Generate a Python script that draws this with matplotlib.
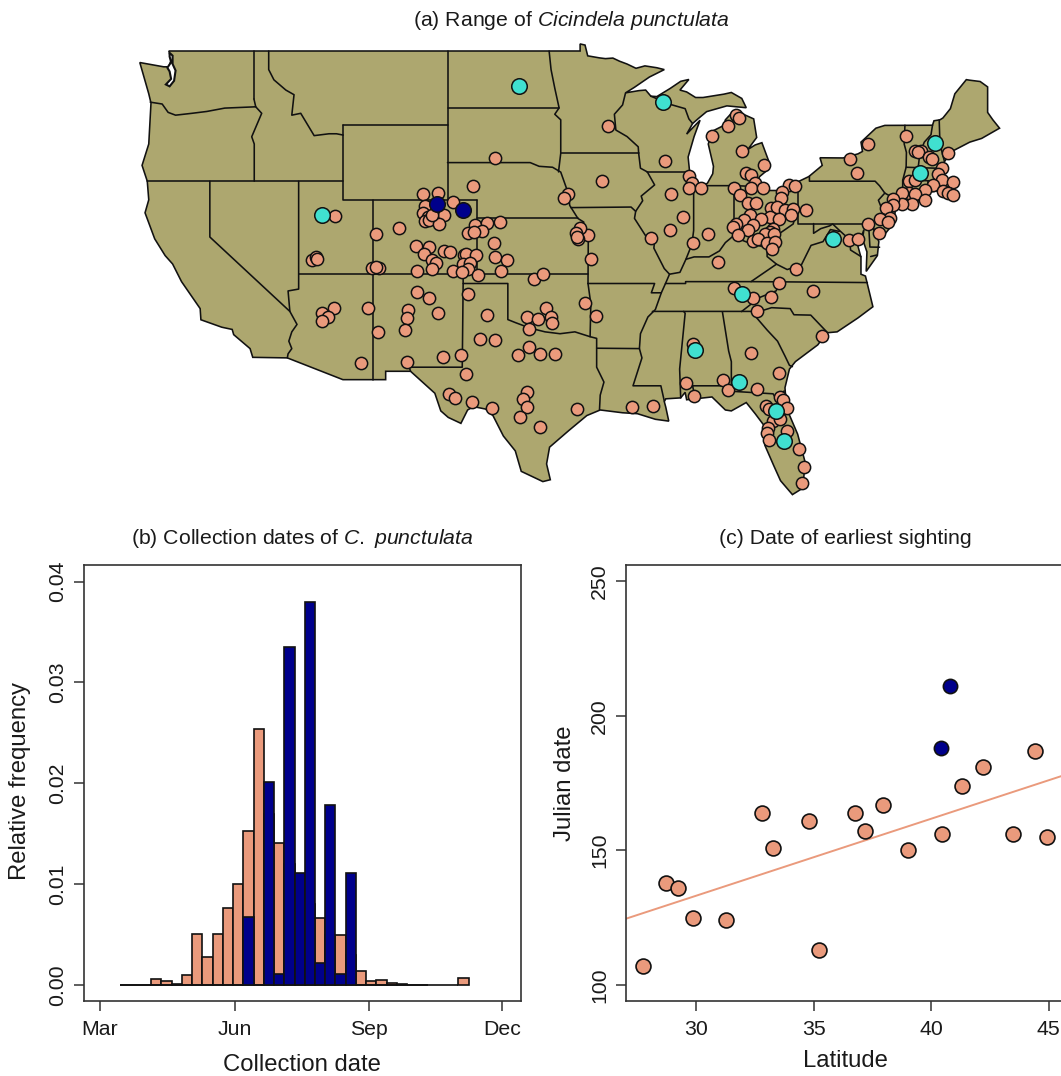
import matplotlib

matplotlib.use("Agg")
import matplotlib.pyplot as plt
import numpy as np

plt.rcParams["font.family"] = ["Liberation Sans", "DejaVu Sans"]
plt.rcParams["mathtext.fontset"] = "custom"
plt.rcParams["mathtext.rm"] = "Liberation Sans"
plt.rcParams["mathtext.it"] = "Liberation Sans:italic"

SALMON = "#EA9A7C"
NAVY = "#00008B"
TURQUOISE = "#40E0D0"
MAP_FILL = "#ADA76F"
AXIS_GREY = "#333333"

# lower 48 outline, lon/lat, clockwise from Puget Sound
US_OUTLINE = [
    (-122.75, 49.0), (-95.15, 49.0), (-95.15, 49.38), (-94.82, 49.32), (-94.64, 48.74), (-93.85, 48.63),
    (-93.45, 48.59), (-92.95, 48.62), (-92.5, 48.45), (-92.0, 48.3), (-91.4, 48.07), (-90.8, 48.2),
    (-90.0, 48.1), (-89.5, 48.0), (-90.5, 47.6), (-91.5, 47.05), (-92.1, 46.75), (-91.2, 46.87),
    (-90.75, 46.9), (-90.4, 46.57), (-90.0, 46.55), (-89.1, 46.99), (-88.4, 47.37), (-87.85, 47.47),
    (-88.45, 46.9), (-88.0, 46.8), (-87.4, 46.5), (-86.9, 46.5), (-85.5, 46.68), (-85.0, 46.77),
    (-84.3, 46.45), (-84.0, 45.95), (-85.3, 46.05), (-86.66, 45.74), (-87.2, 45.38), (-87.6, 45.1),
    (-88.0, 44.53), (-87.1, 45.28), (-87.5, 44.4), (-87.9, 43.3), (-87.8, 42.5), (-87.53, 41.72),
    (-87.0, 41.67), (-86.6, 41.9), (-86.25, 42.4), (-86.2, 42.8), (-86.55, 44.0), (-86.25, 44.7),
    (-85.5, 45.0), (-85.4, 45.3), (-85.0, 45.65), (-84.7, 45.78), (-83.5, 45.35), (-83.3, 44.35),
    (-83.9, 43.7), (-83.4, 43.95), (-82.95, 44.07), (-82.5, 43.1), (-82.5, 42.65), (-83.1, 42.25),
    (-83.45, 41.72), (-82.7, 41.5), (-81.7, 41.5), (-80.5, 41.98), (-79.8, 42.25), (-78.9, 42.85),
    (-79.05, 43.26), (-77.5, 43.25), (-76.5, 43.47), (-76.2, 43.6), (-76.3, 44.1), (-75.3, 44.85),
    (-74.7, 45.0), (-71.5, 45.01), (-71.4, 45.25), (-71.0, 45.3), (-70.8, 45.4), (-70.3, 45.9),
    (-70.0, 46.7), (-69.23, 47.46), (-69.0, 47.43), (-68.3, 47.36), (-67.8, 47.07), (-67.8, 45.7),
    (-67.45, 45.3), (-67.0, 44.85), (-68.2, 44.3), (-69.0, 44.1), (-70.2, 43.6), (-70.7, 43.05),
    (-70.8, 42.7), (-70.6, 42.65), (-71.0, 42.3), (-70.6, 41.95), (-70.0, 41.78), (-70.2, 42.07),
    (-69.95, 41.7), (-70.6, 41.55), (-71.4, 41.45), (-72.9, 41.25), (-73.7, 40.95), (-72.0, 41.05),
    (-73.9, 40.55), (-74.0, 40.4), (-74.1, 39.75), (-74.9, 38.95), (-75.5, 39.5), (-75.1, 38.75),
    (-75.2, 38.0), (-75.95, 37.15), (-75.9, 38.2), (-76.2, 38.9), (-76.1, 39.4), (-76.5, 38.5),
    (-76.3, 37.9), (-76.3, 37.0), (-76.0, 36.9), (-75.5, 35.25), (-76.5, 34.65), (-77.9, 33.9),
    (-78.6, 33.85), (-79.2, 33.2), (-80.7, 32.3), (-81.1, 31.9), (-81.4, 30.9), (-81.3, 29.8),
    (-80.55, 28.4), (-80.05, 26.9), (-80.2, 25.5), (-80.9, 25.15), (-81.7, 25.9), (-82.15, 26.7),
    (-82.75, 27.8), (-82.65, 28.7), (-83.4, 29.5), (-84.0, 30.1), (-85.0, 29.65), (-85.4, 29.7),
    (-86.3, 30.4), (-88.0, 30.25), (-88.1, 30.65), (-88.4, 30.35), (-89.4, 30.3), (-89.5, 30.15),
    (-89.4, 29.85), (-89.2, 29.1), (-90.1, 29.2), (-91.3, 29.5), (-92.3, 29.55), (-93.8, 29.7),
    (-94.7, 29.4), (-95.9, 28.6), (-97.2, 27.7), (-97.4, 26.8), (-97.15, 25.95), (-97.65, 25.85),
    (-99.1, 26.4), (-99.5, 27.5), (-100.3, 28.3), (-101.0, 29.4), (-101.5, 29.75), (-102.3, 29.88),
    (-102.7, 29.7), (-103.15, 28.98), (-104.0, 29.3), (-104.5, 29.65), (-104.9, 30.6), (-106.53, 31.78),
    (-108.2, 31.78), (-108.2, 31.33), (-111.07, 31.33), (-114.8, 32.5), (-117.12, 32.53), (-117.3, 33.0),
    (-118.4, 33.75), (-118.5, 34.03), (-119.2, 34.15), (-120.6, 34.55), (-120.65, 35.15), (-121.9, 36.6),
    (-122.5, 37.55), (-123.0, 38.0), (-123.7, 38.9), (-124.35, 40.3), (-124.1, 41.0), (-124.2, 42.0),
    (-124.55, 42.85), (-124.1, 44.0), (-123.95, 46.2), (-124.1, 46.7), (-124.7, 48.38), (-123.1, 48.15),
    (-122.75, 48.15), (-122.6, 48.5),
]

PUGET_SOUND = [
    (-122.7, 48.9), (-122.5, 48.75), (-122.5, 48.3), (-122.3, 47.95), (-122.4, 47.4), (-122.7, 47.1),
    (-122.95, 47.2), (-122.6, 47.5), (-122.7, 47.9), (-122.85, 48.1), (-122.6, 48.4), (-122.7, 48.7),
]

STATE_LINES = [
    [(-117.04, 49), (-117.04, 46.42)],
    [(-124.0, 46.25), (-123.2, 46.15), (-122.8, 45.7), (-122.3, 45.55), (-121.2, 45.65), (-120.2, 45.75),
     (-119.0, 45.93), (-116.92, 46.0), (-116.52, 45.65), (-117.19, 44.39), (-117.02, 44.0), (-117.02, 42)],
    [(-117.04, 46.42), (-116.92, 46.0)],
    [(-124.2, 42), (-111.05, 42)],
    [(-120, 42), (-120, 39), (-114.63, 35.0)],
    [(-114.04, 42), (-114.04, 36.2), (-114.75, 36.1), (-114.63, 35.0), (-114.15, 34.3), (-114.5, 33.9),
     (-114.7, 33.4), (-114.5, 33.0), (-114.75, 32.72), (-114.8, 32.5)],
    [(-116.05, 49), (-116.05, 48.0), (-115.7, 47.45), (-114.9, 46.9), (-114.35, 46.65), (-114.5, 45.55),
     (-113.9, 45.65), (-113.45, 45.05), (-113.0, 44.45), (-112.0, 44.55), (-111.5, 44.55), (-111.05, 44.48)],
    [(-111.05, 45), (-111.05, 41), (-109.05, 41), (-109.05, 31.33)],
    [(-111.05, 45), (-104.05, 45)],
    [(-109.05, 41), (-102.05, 41)],
    [(-104.05, 49), (-104.05, 41)],
    [(-114.04, 37), (-94.62, 37)],
    [(-102.05, 41), (-102.05, 37)],
    [(-102.05, 40), (-95.3, 40)],
    [(-103.0, 37), (-103.0, 36.5), (-103.06, 32), (-106.62, 32), (-106.53, 31.78)],
    [(-103.0, 36.5), (-100, 36.5), (-100, 34.56), (-99.5, 34.4), (-98.5, 34.1), (-97.5, 33.9), (-96.5, 33.8),
     (-95.5, 33.9), (-94.48, 33.64), (-94.04, 33.55), (-94.04, 32.0), (-93.55, 31.2), (-93.8, 30.5), (-93.85, 29.7)],
    [(-104.05, 45.94), (-96.56, 45.94)],
    [(-97.23, 49), (-97.1, 48), (-96.85, 47), (-96.56, 45.94), (-96.85, 45.6), (-96.45, 45.3), (-96.45, 43.5),
     (-96.6, 42.5)],
    [(-104.05, 43), (-98.5, 43), (-97.9, 42.8), (-97.0, 42.75), (-96.45, 42.49), (-96.1, 41.7), (-95.9, 41.2),
     (-95.85, 40.7), (-95.3, 40.0), (-94.9, 39.8), (-95.1, 39.5), (-94.6, 39.1), (-94.62, 36.5)],
    [(-96.45, 43.5), (-91.22, 43.5)],
    [(-95.77, 40.58), (-91.73, 40.61), (-91.42, 40.38)],
    [(-92.1, 46.75), (-92.3, 46.1), (-92.85, 45.6), (-92.75, 44.75), (-92.0, 44.4), (-91.25, 43.85), (-91.22, 43.5),
     (-91.1, 42.7), (-90.64, 42.5), (-90.15, 41.8), (-91.05, 41.2), (-90.95, 40.95), (-91.42, 40.38), (-91.5, 40.0),
     (-90.7, 39.0), (-90.15, 38.8), (-90.2, 38.4), (-89.5, 37.3), (-89.15, 37.0), (-89.42, 36.5), (-89.7, 36.0),
     (-90.1, 35.1), (-90.6, 34.7), (-91.1, 33.8), (-91.17, 33.0), (-91.0, 32.5), (-91.6, 31.0), (-89.73, 31.0),
     (-89.5, 30.18)],
    [(-90.64, 42.5), (-87.8, 42.5)],
    [(-90.4, 46.57), (-89.1, 46.13), (-88.1, 45.9), (-87.85, 45.35), (-87.6, 45.1)],
    [(-87.53, 41.72), (-87.53, 39.35), (-87.65, 38.6), (-87.95, 38.0), (-88.05, 37.8)],
    [(-89.15, 37.0), (-88.45, 37.1), (-88.05, 37.8), (-87.5, 37.93), (-86.5, 37.93), (-85.8, 38.25), (-85.4, 38.7),
     (-84.8, 39.1), (-84.2, 38.8), (-83.7, 38.65), (-82.6, 38.42), (-81.75, 39.2), (-80.85, 39.7), (-80.52, 40.64)],
    [(-82.6, 38.42), (-82.6, 37.95), (-81.97, 37.54), (-83.68, 36.6), (-88.07, 36.6), (-88.07, 36.5), (-89.42, 36.5)],
    [(-80.52, 41.98), (-80.52, 39.72), (-75.79, 39.72)],
    [(-79.76, 42.27), (-79.76, 42.0), (-75.35, 42.0), (-75.05, 41.75), (-74.7, 41.36), (-75.13, 40.98), (-74.75, 40.2),
     (-75.4, 39.8), (-75.55, 39.6)],
    [(-74.7, 41.36), (-73.9, 41.0)],
    [(-84.82, 41.76), (-84.82, 39.1)],
    [(-87.2, 41.76), (-84.82, 41.76), (-83.45, 41.72)],
    [(-73.35, 45.01), (-73.4, 44.0), (-73.25, 43.55), (-73.27, 42.75), (-73.5, 42.05), (-73.5, 41.3), (-73.65, 41.0)],
    [(-73.27, 42.75), (-71.3, 42.7), (-70.85, 42.87)],
    [(-71.5, 45.01), (-71.6, 44.5), (-72.05, 44.1), (-72.35, 43.5), (-72.46, 42.73)],
    [(-70.7, 43.07), (-71.0, 44.0), (-71.05, 45.3)],
    [(-73.5, 42.05), (-71.38, 42.02), (-71.2, 41.5)],
    [(-71.8, 42.02), (-71.85, 41.32)],
    [(-75.79, 39.72), (-75.7, 38.46), (-75.05, 38.45)],
    [(-75.65, 37.95), (-75.25, 38.03)],
    [(-76.3, 37.95), (-77.0, 38.3), (-77.05, 38.85), (-77.7, 39.32), (-78.2, 39.7), (-78.4, 39.6), (-79.0, 39.45),
     (-79.48, 39.2), (-79.48, 39.72)],
    [(-77.75, 39.3), (-78.35, 39.4), (-78.85, 38.75), (-79.65, 38.55), (-80.3, 37.5), (-81.25, 37.25), (-81.97, 37.54)],
    [(-75.87, 36.55), (-81.68, 36.59), (-83.68, 36.6)],
    [(-81.68, 36.59), (-82.0, 36.1), (-83.1, 35.75), (-84.32, 34.99)],
    [(-90.3, 35.0), (-83.1, 35.0), (-82.3, 35.2), (-81.05, 35.15), (-80.8, 34.82), (-79.67, 34.8), (-78.55, 33.86)],
    [(-83.1, 35.0), (-83.35, 34.7), (-82.6, 34.0), (-81.9, 33.4), (-81.4, 32.6), (-81.1, 32.1), (-80.9, 32.03)],
    [(-81.45, 30.72), (-82.05, 30.37), (-82.2, 30.57), (-84.86, 30.7), (-85.0, 31.0), (-87.6, 31.0), (-87.45, 30.4)],
    [(-85.6, 34.98), (-85.18, 32.87), (-85.0, 32.3), (-85.0, 31.0)],
    [(-88.2, 35.0), (-88.1, 34.9), (-88.47, 31.9), (-88.4, 30.35)],
    [(-94.62, 36.5), (-90.15, 36.5), (-90.37, 36.0), (-89.7, 36.0)],
    [(-94.04, 33.02), (-91.17, 33.0)],
    [(-94.62, 36.5), (-94.43, 35.4), (-94.48, 33.64)],
]

# collection sites
SITE_LON = [
    -100.86, -102.36, -105.69, -104.67, -103.66, -105.56, -105.67, -104.28, -105.34, -105.56, -105.29, -104.60,
    -105.11, -111.62, -108.83, -107.33, -102.18, -101.40, -100.55, -102.65, -101.71, -102.27, -100.93, -106.14,
    -105.31, -105.65, -104.26, -103.88, -102.94, -102.81, -102.14, -100.88, -100.03, -105.11, -104.82, -105.09,
    -102.99, -102.54, -102.65, -106.12, -103.66, -103.10, -102.03, -100.48, -98.24, -97.64, -113.17, -112.90,
    -112.81, -109.14, -108.62, -108.85,
    -106.07, -105.27, -106.68, -104.69, -106.79, -106.92, -102.67, -101.42, -101.85, -100.86, -98.69, -97.46,
    -97.98, -97.08, -97.06, -98.58, -98.60, -99.34, -97.82, -96.81, -104.37, -103.17, -106.79, -102.83, -103.95,
    -103.55, -102.43, -101.09, -98.69, -98.96, -98.74, -99.16, -97.86, -111.64, -109.36, -108.69, -112.45,
    -112.05, -112.47, -109.83,
    -93.30, -89.45, -93.66, -95.94, -96.21, -89.05, -87.86, -87.62, -87.86, -87.06, -88.27, -89.12, -90.39,
    -87.57, -86.54, -85.90, -94.40, -94.60, -95.16, -95.43, -95.31, -95.38, -84.69, -84.49, -85.25, -86.28,
    -84.26, -82.81, -84.04, -83.70, -83.41, -84.82, -83.70, -82.85, -84.42, -81.15, -80.75, -81.58, -81.69,
    -83.90, -83.35, -82.36, -81.96, -81.40, -80.84, -81.02, -79.99, -83.77, -82.41, -83.03, -81.80, -84.13,
    -84.71, -84.87, -83.52, -82.18, -83.86, -82.41, -84.53, -82.74, -82.12, -83.52, -83.19, -82.63, -82.07,
    -82.25, -80.68, -75.81, -77.04, -76.54, -73.26, -70.44, -72.68, -72.30, -72.45, -71.74, -71.56, -70.84,
    -71.15, -73.08, -72.70, -70.89, -70.10, -71.44, -72.00, -73.05, -73.57, -72.67, -70.77, -70.48, -70.10,
    -72.00, -72.90, -73.52, -74.13, -74.13, -74.64, -74.35, -75.02, -74.51, -75.81, -75.07, -77.10, -76.50,
    -94.82, -94.06, -95.38, -91.69, -90.24, -84.82, -81.80, -83.52, -82.34, -79.54, -83.26, -78.92, -87.55,
    -83.70, -81.80, -88.04, -85.54, -85.20, -83.28, -87.51, -81.73, -81.56, -81.29, -82.67, -82.45, -82.18,
    -81.73, -82.56, -82.63, -82.50, -81.24, -80.46, -80.10, -80.24,
]
SITE_LAT = [
    43.23, 41.72, 41.29, 41.35, 40.88, 40.68, 40.31, 40.18, 40.09, 39.88, 39.90, 39.72,
    40.18, 40.11, 39.16, 39.50, 39.65, 39.77, 39.81, 39.23, 39.30, 39.29, 38.68, 38.52,
    38.44, 38.10, 38.23, 38.18, 38.01, 38.09, 38.03, 37.94, 37.75, 37.76, 37.60, 37.30,
    37.55, 37.62, 37.30, 37.15, 37.15, 37.12, 36.97, 37.17, 36.72, 36.99, 37.75, 37.91,
    37.80, 37.35, 37.35, 37.41,
    36.06, 35.73, 35.05, 34.91, 34.62, 34.01, 35.93, 34.80, 33.53, 33.44, 34.71, 35.20,
    34.59, 34.68, 34.39, 34.05, 33.06, 32.67, 32.72, 32.72, 32.56, 32.67, 32.29, 31.61, 30.57,
    30.36, 30.11, 29.80, 30.66, 30.29, 29.87, 29.32, 28.78, 35.16, 35.18, 33.91, 34.89,
    34.68, 34.50, 32.22,
    44.97, 43.07, 42.03, 41.29, 41.08, 41.33, 42.26, 41.88, 41.65, 41.63, 40.07, 39.38, 38.93,
    38.66, 39.16, 37.67, 37.83, 39.09, 39.46, 39.23, 38.89, 39.00, 45.58, 45.41, 44.97, 44.41,
    43.62, 42.89, 42.46, 42.33, 41.92, 41.63, 41.63, 41.63, 41.24, 41.78, 41.74, 41.44, 41.11,
    40.84, 40.83, 40.58, 40.63, 40.45, 40.50, 40.20, 40.47, 40.16, 40.09, 39.95, 39.95, 39.89,
    39.68, 39.55, 39.64, 39.45, 39.38, 39.29, 39.11, 39.14, 39.14, 38.78, 38.89, 38.66, 38.75,
    38.35, 37.30, 44.02, 43.19, 42.42, 44.45, 43.50, 43.62, 43.62, 43.59, 43.30, 43.17, 42.69,
    42.40, 42.01, 42.06, 42.06, 41.94, 41.81, 41.53, 41.36, 41.35, 41.31, 41.47, 41.35, 41.26,
    40.99, 40.79, 40.76, 41.02, 40.72, 40.54, 40.00, 39.98, 39.79, 39.68, 39.23, 38.86, 38.89,
    35.43, 34.75, 29.73, 29.87, 29.91, 36.27, 36.54, 35.70, 35.77, 36.08, 35.02, 33.66, 33.23,
    32.78, 31.70, 31.17, 31.29, 30.75, 30.81, 30.43, 30.41, 30.23, 29.82, 29.93, 29.75, 29.10,
    29.19, 28.71, 28.48, 28.08, 28.57, 27.60, 26.65, 25.77,
]
EARLY_LON = [-99.27, -112.50, -89.56, -71.35, -72.32, -78.18, -84.31, -87.46, -84.51, -82.00, -81.47]
EARLY_LAT = [47.12, 40.16, 46.24, 44.03, 42.42, 38.87, 35.93, 32.90, 31.18, 29.66, 28.05]
LATE_LON = [-104.73, -103.03]
LATE_LAT = [40.79, 40.45]

# weekly bins, julian day of the left edge
BIN_STARTS = [74 + 7 * k for k in range(34)]
FREQ_ALL = [
    0, 0, 0, 0.00056, 0.0004, 0.00015, 0.00096, 0.0051, 0.0028, 0.0051, 0.0076, 0.0100, 0.0153, 0.0254,
    0.0170, 0.01406, 0.012, 0.009, 0.008, 0.0066, 0.005, 0.00495, 0.003, 0.00135, 0.00036, 0.00053,
    0.00023, 0.0001, 0, 0, 0, 0, 0, 0.00066,
]
FREQ_COLORADO = [
    0, 0, 0, 0, 0, 0, 0, 0, 0, 0, 0, 0, 0.00677, 0, 0.0201, 0.00106, 0.0335, 0.01116, 0.038, 0.0022,
    0.0179, 0.00106, 0.01116, 0, 0, 0, 0, 0, 0, 0,
]
MONTH_DAYS = [60, 152, 244, 335]
MONTH_LABELS = ["Mar", "Jun", "Sep", "Dec"]
FREQ_TICKS = [0.0, 0.01, 0.02, 0.03, 0.04]
FREQ_LABELS = ["0.00", "0.01", "0.02", "0.03", "0.04"]

SIGHT_LAT = [27.74, 28.72, 29.23, 29.87, 31.28, 32.8, 33.28, 34.8, 35.23, 36.77, 37.19, 37.96, 39.02, 40.47,
             41.32, 42.2, 43.49, 44.43, 44.94]
SIGHT_DAY = [107, 138, 136, 125, 124, 164, 151, 161, 113, 164, 157, 167, 150, 156, 174, 181, 156, 187, 155]
SIGHT_LATE_LAT = [40.43, 40.81]
SIGHT_LATE_DAY = [188, 211]
FIT_SLOPE = 2.86
FIT_INTERCEPT = 47.3

W, H = 1061, 1076
TITLE_SIZE = 15.3
LABEL_SIZE = 17.2
TICK_SIZE = 15.3


def px_axes(fig, left, top, right, bottom):
    return fig.add_axes([left / W, 1 - bottom / H, (right - left) / W, (bottom - top) / H])


def style_axes(ax):
    for spine in ax.spines.values():
        spine.set_linewidth(1.2)
        spine.set_color(AXIS_GREY)
    ax.tick_params(length=7.4, width=1.1, color=AXIS_GREY, labelsize=TICK_SIZE, labelcolor="#1a1a1a")
    ax.tick_params(axis="x", pad=6.5)
    ax.tick_params(axis="y", pad=4.5)
    for label in ax.get_yticklabels():
        label.set_rotation(90)
        label.set_va("center")


fig = plt.figure(figsize=(W / 100, H / 100), dpi=100)

# panel a
map_ax = px_axes(fig, 130, 40, 1010, 505)
map_ax.set_xlim(-109.05 + (130 - 373) / 14.9, -109.05 + (1010 - 373) / 14.9)
map_ax.set_ylim(49 - (505 - 51) / 18.6, 49 - (40 - 51) / 18.6)
map_ax.axis("off")
map_ax.fill(*zip(*US_OUTLINE), facecolor=MAP_FILL, edgecolor="#111111", linewidth=1.15, zorder=1)
map_ax.fill(*zip(*PUGET_SOUND), facecolor="white", edgecolor="#111111", linewidth=1.5, zorder=2)
for border in STATE_LINES:
    map_ax.plot(*zip(*border), color="#111111", linewidth=1.15, solid_capstyle="round", zorder=2)
map_ax.scatter(SITE_LON, SITE_LAT, s=78, c=SALMON, edgecolors="#111111", linewidths=1.1, zorder=3)
map_ax.scatter(EARLY_LON, EARLY_LAT, s=125, c=TURQUOISE, edgecolors="#111111", linewidths=1.1, zorder=4)
map_ax.scatter(LATE_LON, LATE_LAT, s=125, c=NAVY, edgecolors="#111111", linewidths=1.1, zorder=4)
fig.text(571 / W, 1 - 21 / H, r"(a) Range of $\mathit{Cicindela}$ $\mathit{punctulata}$", fontsize=TITLE_SIZE,
         ha="center", va="center", color="#1a1a1a")

# panel b
hist_ax = px_axes(fig, 84, 565, 520.5, 1001)
hist_ax.set_xlim(60 + (84 - 100) / 1.4625, 60 + (520.5 - 100) / 1.4625)
hist_ax.set_ylim(-0.00158, 0.04165)
hist_ax.bar(BIN_STARTS, FREQ_ALL, width=7, align="edge", color=SALMON, edgecolor="#111111", linewidth=1.2, zorder=2)
hist_ax.bar(BIN_STARTS[:len(FREQ_COLORADO)], FREQ_COLORADO, width=7, align="edge", color=NAVY,
            edgecolor="#111111", linewidth=1.2, zorder=3)
hist_ax.set_xticks(MONTH_DAYS, MONTH_LABELS)
hist_ax.set_yticks(FREQ_TICKS, FREQ_LABELS)
style_axes(hist_ax)
hist_ax.set_xlabel("Collection date", fontsize=LABEL_SIZE, color="#1a1a1a", va="center")
hist_ax.xaxis.set_label_coords(0.5, -(1065 - 1001) / 436)
hist_ax.set_ylabel("Relative frequency", fontsize=LABEL_SIZE, color="#1a1a1a", va="center")
hist_ax.yaxis.set_label_coords((20 - 84) / 436.5, 0.5 + (785 - 783) / 436)
fig.text(302 / W, 1 - 539 / H, r"(b) Collection dates of $\mathit{C.}$ $\mathit{punctulata}$", fontsize=TITLE_SIZE,
         ha="center", va="center", color="#1a1a1a")

# panel c runs off the right edge of the figure
sight_ax = px_axes(fig, 625.5, 565, 1070, 1001)
sight_ax.set_xlim(27.0, 27.0 + (1070 - 625.5) / 23.5)
sight_ax.set_ylim(94.0, 256.0)
fit_x = np.array(sight_ax.get_xlim())
sight_ax.plot(fit_x, FIT_SLOPE * fit_x + FIT_INTERCEPT, color=SALMON, linewidth=1.4, zorder=2)
sight_ax.scatter(SIGHT_LAT, SIGHT_DAY, s=115, c=SALMON, edgecolors="#111111", linewidths=1.2, zorder=3)
sight_ax.scatter(SIGHT_LATE_LAT, SIGHT_LATE_DAY, s=105, c=NAVY, edgecolors="#111111", linewidths=1.2, zorder=3)
sight_ax.set_xticks([30, 35, 40, 45])
sight_ax.set_yticks([100, 150, 200, 250])
style_axes(sight_ax)
sight_ax.set_xlabel("Latitude", fontsize=LABEL_SIZE, color="#1a1a1a", va="center")
sight_ax.xaxis.set_label_coords((845 - 625.5) / 444.5, -(1061 - 1001) / 436)
sight_ax.set_ylabel("Julian date", fontsize=LABEL_SIZE, color="#1a1a1a", va="center")
sight_ax.yaxis.set_label_coords((565 - 625.5) / 444.5, 0.5)
fig.text(845 / W, 1 - 539 / H, "(c) Date of earliest sighting", fontsize=TITLE_SIZE, ha="center", va="center",
         color="#1a1a1a")

fig.savefig("out.png", dpi=100)
plt.close(fig)
